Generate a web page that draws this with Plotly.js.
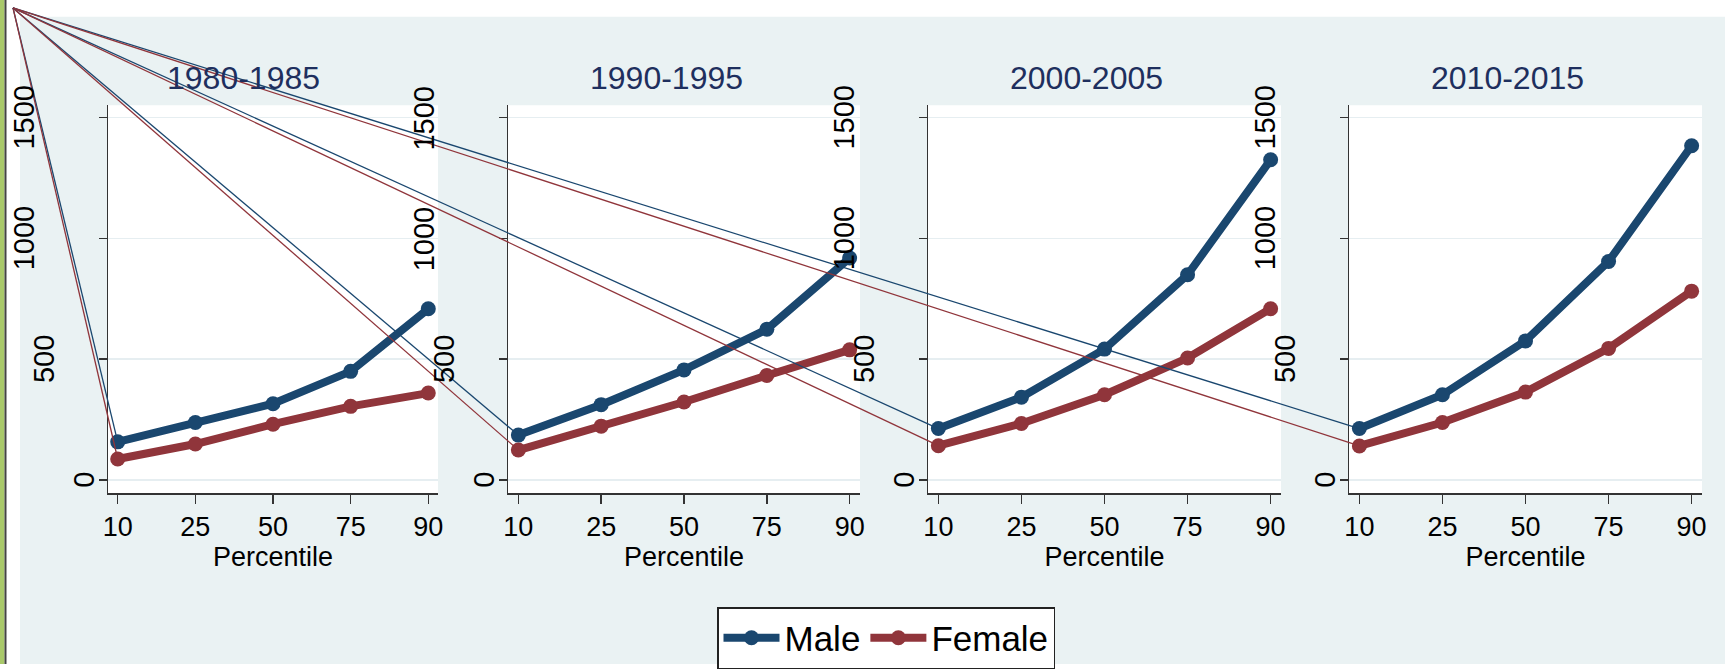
<!DOCTYPE html>
<html>
<head>
<meta charset="utf-8">
<script src="https://cdn.plot.ly/plotly-3.0.1.min.js"></script>
<style>html,body{margin:0;padding:0;background:#fff;}#chart{width:1725px;height:669px;}</style>
</head>
<body>
<div id="chart"></div>
<script>
// ---- data ----
const percentiles = ["10", "25", "50", "75", "90"];
const periods = ["1980-1985", "1990-1995", "2000-2005", "2010-2015"];
const male1980 = [157, 237, 315, 449, 708];
const female1980 = [86, 148, 230, 304, 359];
const male1990 = [185, 311, 455, 623, 918];
const female1990 = [123, 222, 322, 432, 538];
const male2000 = [212, 342, 541, 849, 1325];
const female2000 = [141, 233, 352, 504, 708];
const male2010 = [212, 352, 575, 904, 1383];
const female2010 = [140, 237, 363, 544, 781];
const yTicks = [0, 500, 1000, 1500];
const seriesNames = ["Male", "Female"];

const maleSeries = [male1980, male1990, male2000, male2010];
const femaleSeries = [female1980, female1990, female2000, female2010];

// ---- style ----
const W = 1725, H = 669;
const NAVY = "#1a476f", MAROON = "#90353b";
const BG = "#eaf2f3";
const NARROW = "Liberation Sans Narrow, Arial Narrow, Liberation Sans, Arial, sans-serif";
const REG = "Liberation Sans, Arial, sans-serif";
const xDomains = [[108 / W, 438 / W], [508 / W, 860 / W], [928 / W, 1281 / W], [1349 / W, 1702 / W]];
const yDomain = [(H - 497) / H, (H - 106) / H];
const xRange = [-0.125, 4.125];
const yRange = [-56, 1551];
const titleX = [244 / W, 666 / W, 1086 / W, 1507 / W];
const corner = [13 / W, 1 - 8 / H];

const traces = [];
const layout = {
  width: W, height: H,
  margin: {l: 0, r: 0, t: 0, b: 0, pad: 0},
  paper_bgcolor: "#ffffff",
  plot_bgcolor: "rgba(0,0,0,0)",
  showlegend: true,
  legend: {
    orientation: "h", x: 717 / W, y: 1 - 612 / H, xanchor: "left", yanchor: "top",
    bgcolor: "#ffffff", bordercolor: "#222222", borderwidth: 1.5,
    font: {family: NARROW, size: 35, color: "#000"}, itemwidth: 56,
    traceorder: "normal"
  },
  shapes: [
    {type: "rect", xref: "paper", yref: "paper", x0: 20 / W, x1: 1, y0: 0, y1: 1 - 17 / H,
     fillcolor: BG, line: {width: 0}, layer: "below"},
    {type: "rect", xref: "paper", yref: "paper", x0: 0, x1: 4.5 / W, y0: 0, y1: 1,
     fillcolor: "#a9c96a", line: {width: 0}, layer: "below"},
    {type: "rect", xref: "paper", yref: "paper", x0: 4.5 / W, x1: 6.5 / W, y0: 0, y1: 1,
     fillcolor: "#444444", line: {width: 0}, layer: "below"}
  ],
  annotations: []
};

periods.forEach((p, i) => {
  const n = i + 1;
  const xa = "xaxis" + (n === 1 ? "" : n), ya = "yaxis" + (n === 1 ? "" : n);
  const xr = "x" + (n === 1 ? "" : n), yr = "y" + (n === 1 ? "" : n);
  layout.shapes.push({type: "rect", xref: "paper", yref: "paper",
    x0: xDomains[i][0], x1: xDomains[i][1], y0: yDomain[0], y1: yDomain[1],
    fillcolor: "#ffffff", line: {width: 0}, layer: "below"});
  layout[xa] = {
    domain: xDomains[i], anchor: yr, type: "category", categoryorder: "array",
    categoryarray: percentiles, range: xRange, fixedrange: true,
    showline: true, linecolor: "#333", linewidth: 1.5, mirror: false,
    ticks: "outside", ticklen: 9, tickwidth: 1.5, tickcolor: "#333",
    tickfont: {family: NARROW, size: 27, color: "#000"},
    showgrid: false, zeroline: false,
    title: {text: "Percentile", font: {family: NARROW, size: 27, color: "#000"}, standoff: 3}
  };
  layout[ya] = {
    domain: yDomain, anchor: xr, range: yRange, fixedrange: true,
    tickvals: yTicks, showticklabels: false,
    showline: true, linecolor: "#333", linewidth: 1.5,
    ticks: "outside", ticklen: 8, tickwidth: 1.5, tickcolor: "#333",
    showgrid: true, gridcolor: "#e6eef1", gridwidth: 1.5, zeroline: false
  };
  // panel title
  layout.annotations.push({text: p, xref: "paper", yref: "paper", x: titleX[i], y: 1 - 79 / H,
    xanchor: "center", yanchor: "middle", showarrow: false,
    font: {family: NARROW, size: 32, color: "#1e2f5e"}});
  // y tick labels (rotated)
  yTicks.forEach(t => {
    const s = String(t);
    layout.annotations.push({text: s, xref: "paper", yref: yr, x: xDomains[i][0], y: t,
      xanchor: "center", yanchor: "middle", xshift: -(4 + 20 * s.length), textangle: -90,
      showarrow: false, font: {family: REG, size: 29, color: "#000"}});
  });
  [[maleSeries[i], NAVY, seriesNames[0]], [femaleSeries[i], MAROON, seriesNames[1]]].forEach(([vals, col, name]) => {
    traces.push({type: "scatter", mode: "lines+markers", x: percentiles, y: vals,
      xaxis: xr, yaxis: yr, name: name, showlegend: i === 0, legendgroup: name,
      line: {color: col, width: 8}, marker: {color: col, size: 15}, hoverinfo: "skip"});
  });
});

// artefact lines from top-left corner to each series' first point (computed from data)
layout.xaxis5 = {domain: [0, 1], range: [0, 1], visible: false, fixedrange: true, anchor: "y5"};
layout.yaxis5 = {domain: [0, 1], range: [0, 1], visible: false, fixedrange: true, anchor: "x5"};
periods.forEach((p, i) => {
  [[maleSeries[i], NAVY], [femaleSeries[i], MAROON]].forEach(([vals, col]) => {
    const cx = percentiles.indexOf(percentiles[0]);
    const px = xDomains[i][0] + (cx - xRange[0]) / (xRange[1] - xRange[0]) * (xDomains[i][1] - xDomains[i][0]);
    const py = yDomain[0] + (vals[0] - yRange[0]) / (yRange[1] - yRange[0]) * (yDomain[1] - yDomain[0]);
    traces.push({type: "scatter", mode: "lines", x: [corner[0], px], y: [corner[1], py],
      xaxis: "x5", yaxis: "y5", showlegend: false, hoverinfo: "skip",
      line: {color: col, width: 1.3}});
  });
});

Plotly.newPlot("chart", traces, layout, {displayModeBar: false, staticPlot: true});
</script>
</body>
</html>
